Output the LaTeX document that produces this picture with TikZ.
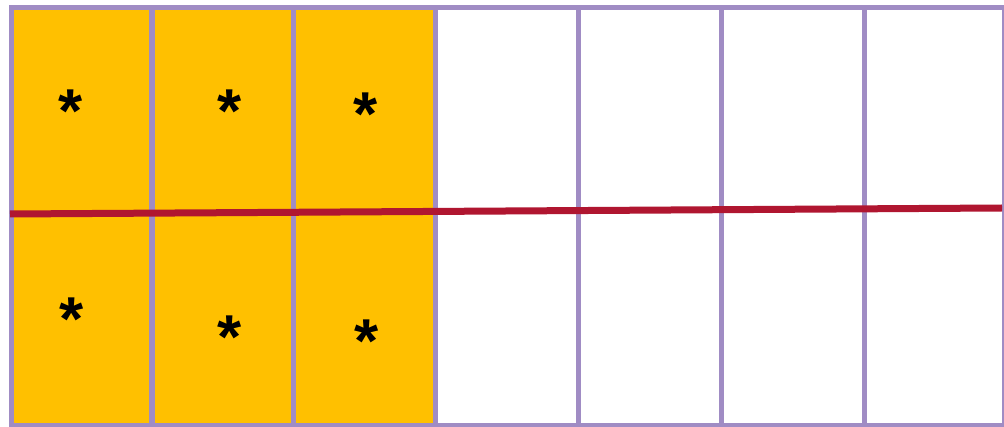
\documentclass[tikz,border=0pt]{standalone}
\usepackage{fontspec}
\setmainfont{Liberation Sans}
\definecolor{frame}{RGB}{160,140,196}
\definecolor{gold}{RGB}{255,192,0}
\definecolor{redline}{RGB}{176,22,48}
\begin{document}
\begin{tikzpicture}[x=1pt,y=-1pt,
  cell/.style={draw=frame,line width=5pt,minimum height=418pt,inner sep=0pt,anchor=north west},
  star/.style={font=\bfseries\fontsize{62}{62}\selectfont,inner sep=0pt}]
\useasboundingbox (0,0) rectangle (1004,427);
\node[cell,fill=gold,minimum width=140pt] (c1) at (9,5) {};
\node[cell,fill=gold,minimum width=141pt] (c2) at (150,5) {};
\node[cell,fill=gold,minimum width=142pt] (c3) at (291,5) {};
\node[cell,fill=white,minimum width=143pt] (c4) at (433,5) {};
\node[cell,fill=white,minimum width=143pt] (c5) at (576,5) {};
\node[cell,fill=white,minimum width=143pt] (c6) at (719,5) {};
\node[cell,fill=white,minimum width=140pt] (c7) at (862,5) {};
\coordinate (l) at (10,214);
\coordinate (r) at (1002,208);
\draw[redline,line width=7pt] (l) -- (r);
\node[star] (s1) at (71,111) {*};
\node[star] (s2) at (230,111) {*};
\node[star] (s3) at (366,114) {*};
\node[star] (s4) at (72,319) {*};
\node[star] (s5) at (230,337) {*};
\node[star] (s6) at (367,341) {*};
\end{tikzpicture}
\end{document}
